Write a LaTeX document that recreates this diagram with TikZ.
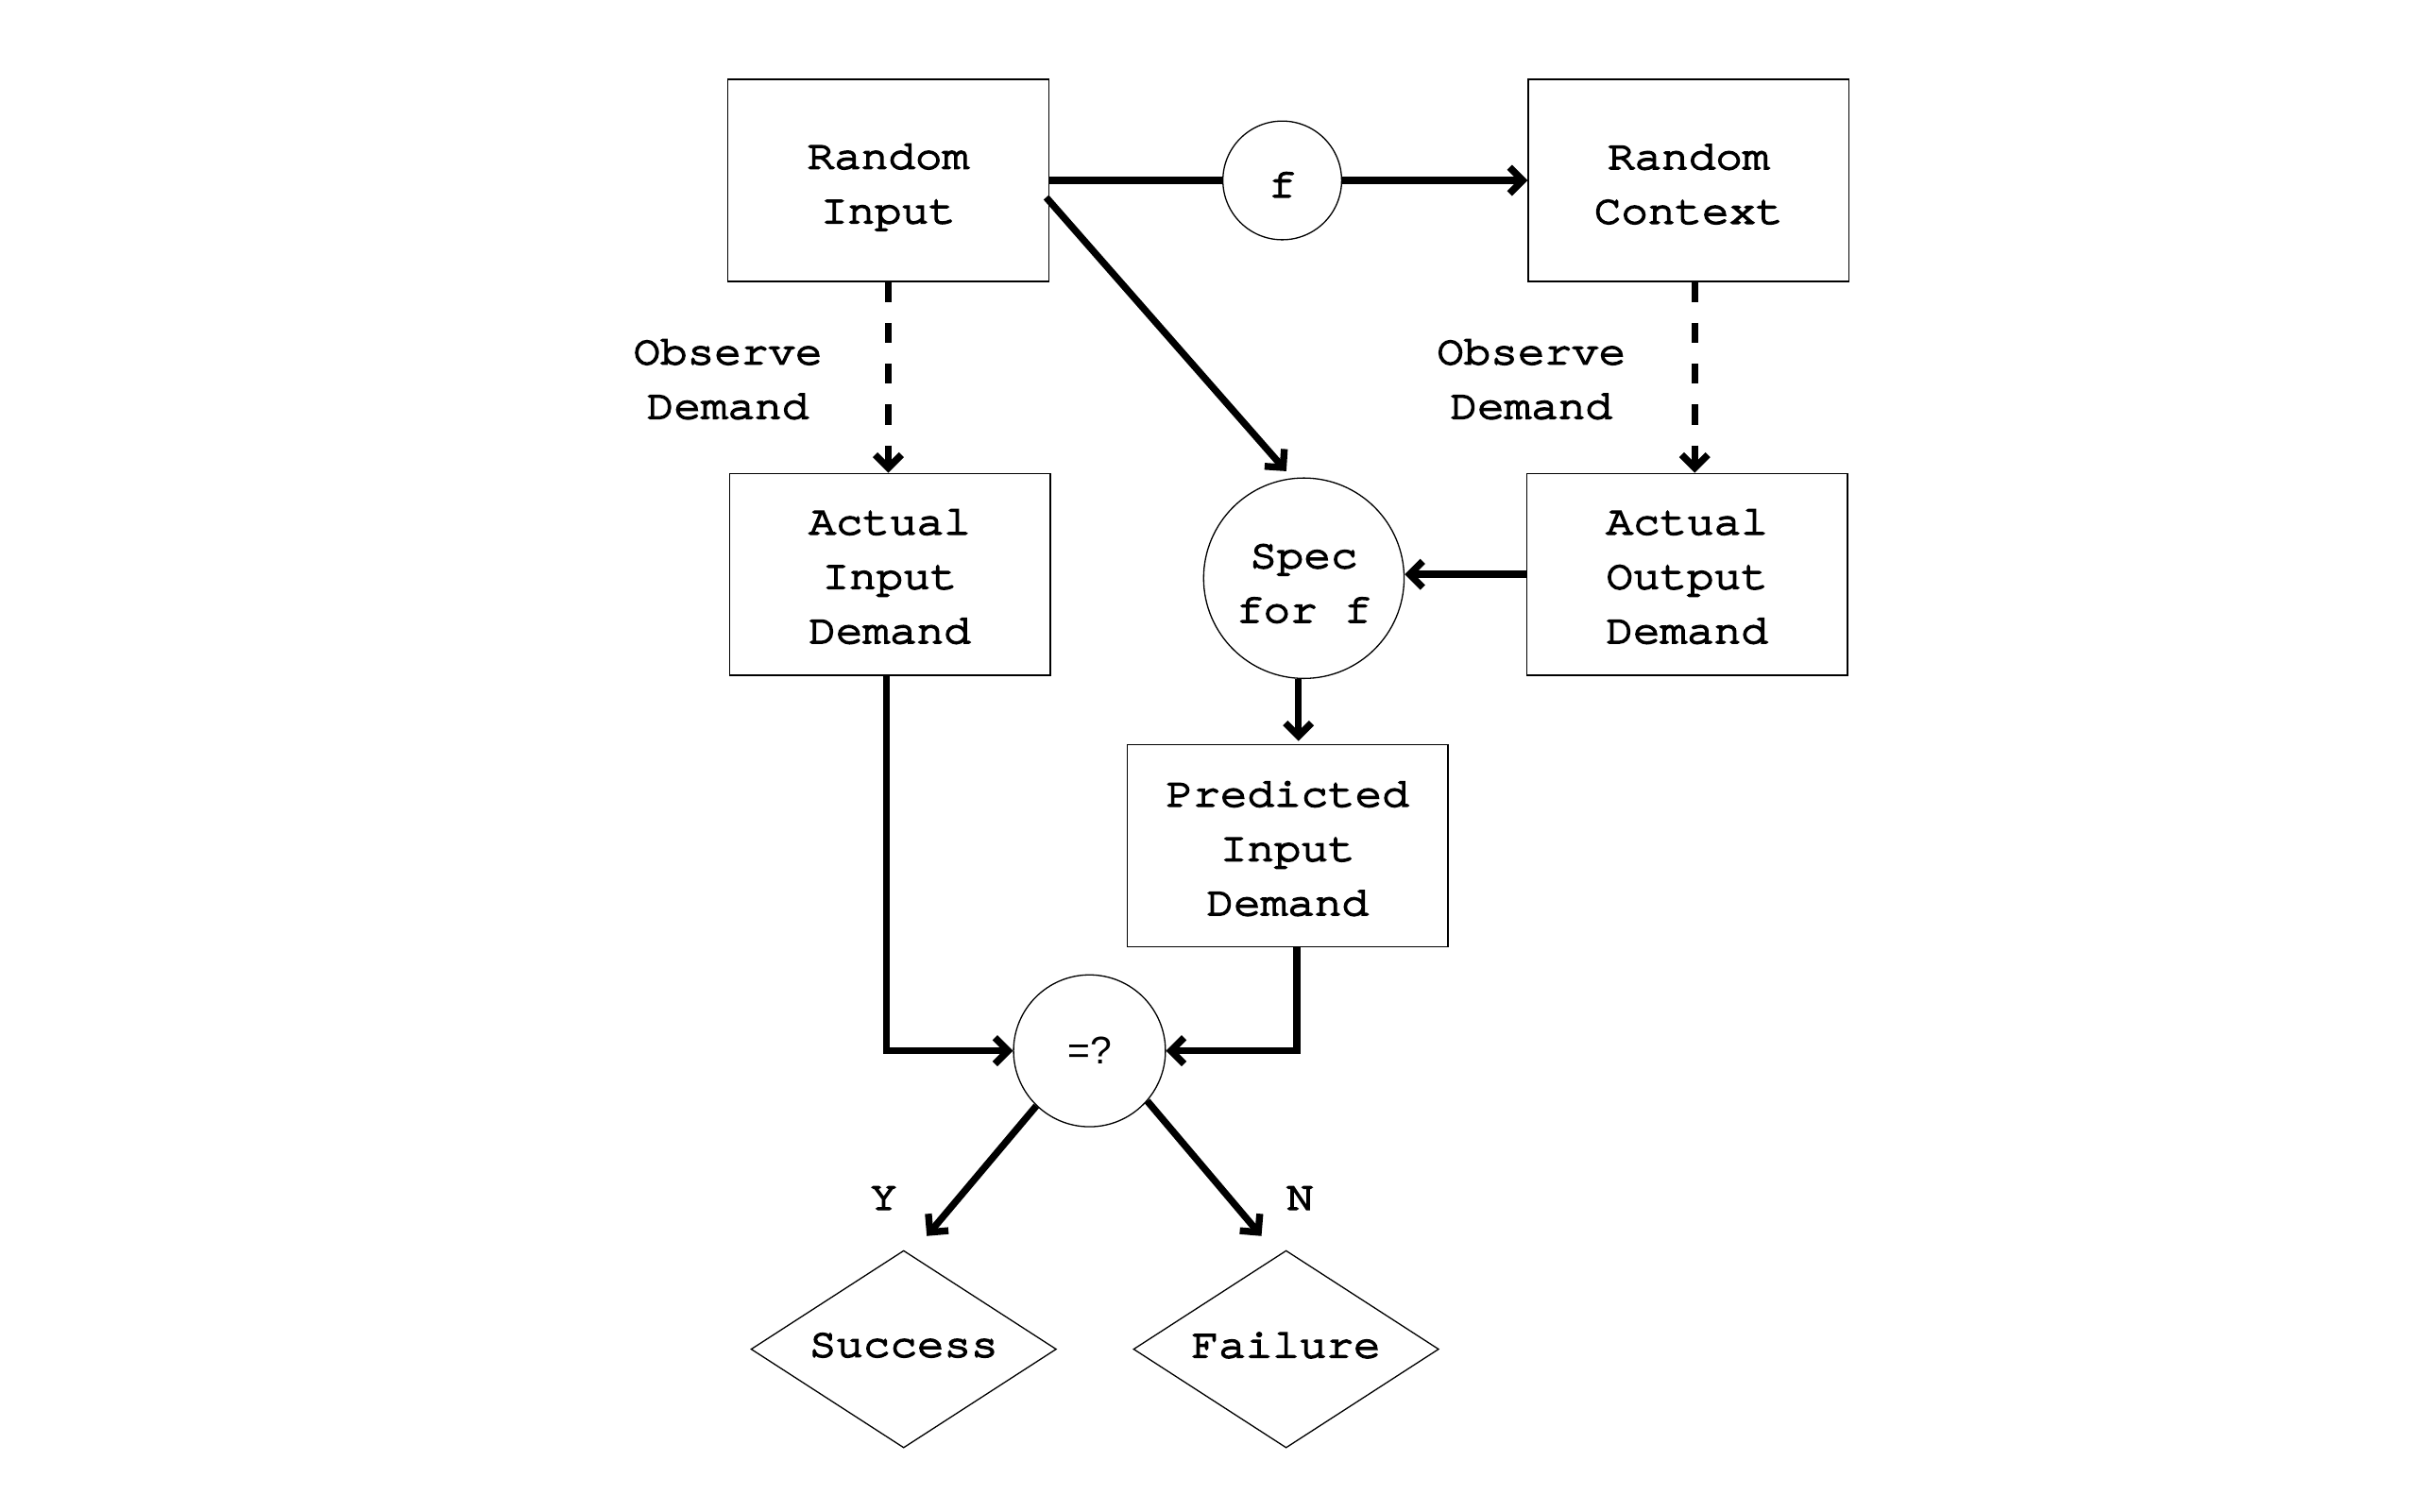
\documentclass[tikz,border=0pt]{standalone}
\usepackage{fontspec}
\newfontfamily\monof[FakeStretch=1.1,FakeBold=4]{TeX Gyre Cursor}
\newfontfamily\sansf{Liberation Sans}
\usetikzlibrary{shapes.geometric,arrows.meta,calc}
\begin{document}
\begin{tikzpicture}[x=1pt,y=-1pt,
  lbl/.style={font=\monof\fontsize{26.5}{35.3}\selectfont, align=center, inner sep=0pt},
  box/.style={draw, line width=0.8pt, minimum width=208pt, minimum height=131pt, inner sep=0pt},
  circ/.style={draw, circle, line width=0.8pt, inner sep=0pt},
  dia/.style={draw, diamond, aspect=1.55, line width=0.8pt, minimum width=198pt, minimum height=128pt, inner sep=0pt},
  conn/.style={line width=4.5pt, -{Straight Barb[length=8.5pt,width=17pt,sharp]}},
  plain/.style={line width=4.5pt},
  dashconn/.style={conn, dash pattern=on 13pt off 13.5pt}
]
\useasboundingbox (0,0) rectangle (1568,980);

\node[box, label={[lbl,yshift=-4.5pt]center:{Random\\Input}}] (ri) at (576,117) {};
\node[circ, minimum size=77pt, label={[lbl,yshift=-2.8pt]center:f}] (f) at (831.5,117) {};
\node[box, label={[lbl,yshift=-2.5pt]center:{Random\\Context}}] (rc) at (1095,117) {};
\node[box, label={[lbl,yshift=-1.5pt]center:{Actual\\Input\\Demand}}] (aid) at (577,372.5) {};
\node[circ, minimum size=130pt, label={[lbl,yshift=-3.5pt]center:{Spec\\for f}}] (spec) at (845.5,375) {};
\node[box, label={[lbl,yshift=-1.5pt]center:{Actual\\Output\\Demand}}] (aod) at (1094,372.5) {};
\node[box, label={[lbl,yshift=-1.9pt]center:{Predicted\\Input\\Demand}}] (pid) at (835,548.5) {};
\node[circ, minimum size=98.5pt, font=\sansf\fontsize{25}{28}\selectfont] (eq) at (706.5,681.5) {=?};
\node[dia, label={[lbl,yshift=2.5pt]center:Success}] (succ) at (586,875) {};
\node[dia, label={[lbl,yshift=2.5pt]center:Failure}] (fail) at (834,875) {};
\node[lbl] (obs1) at (472,246) {Observe\\Demand};
\node[lbl] (obs2) at (993,246) {Observe\\Demand};
\node[lbl] (ylab) at (573,777) {Y};
\node[lbl] (nlab) at (843,777) {N};

\draw[plain] (ri.east) -- (f.west);
\draw[conn] (f.east) -- (rc.west);
\draw[conn] ($(ri.east)+(-2,11)$) -- ($(spec.100)+(0,-5)$);
\draw[dashconn] (ri.south) -- (ri.south |- aid.north);
\draw[dashconn] ($(rc.south)+(4,0)$) -- ($(aod.north)+(5,0)$);
\draw[conn] (aod.west) -- (aod.west -| spec.east);
\draw[conn] ($(spec.south)+(-3.5,0)$) -- ($(pid.north)+(7,-2)$);
\draw[conn] ($(aid.south)+(-2,0)$) |- (eq.west);
\draw[conn] ($(pid.south)+(6,0)$) |- (eq.east);
\draw[conn] (eq.226) -- ($(succ.north)+(15,-9)$);
\draw[conn] (eq.-41) -- ($(fail.north)+(-16,-9)$);
\end{tikzpicture}
\end{document}
